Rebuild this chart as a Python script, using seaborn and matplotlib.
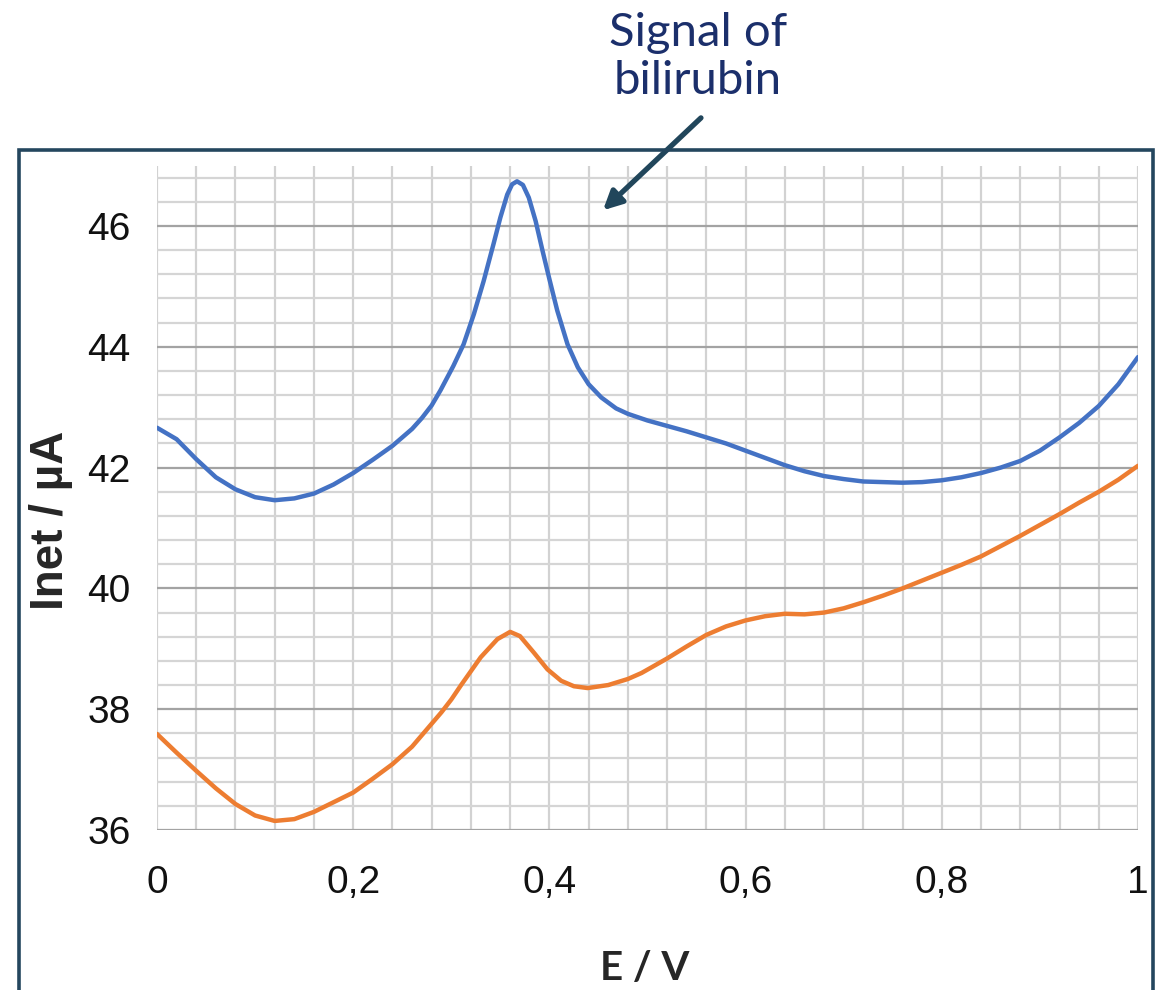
import numpy as np
import pandas as pd
import matplotlib
matplotlib.use("Agg")
import matplotlib.pyplot as plt
import seaborn as sns
from matplotlib.ticker import MultipleLocator
from matplotlib.patches import Rectangle

# potential (V) and net current (uA)
e_blue = [0, 0.02, 0.04, 0.06, 0.08, 0.10, 0.12, 0.14, 0.16, 0.18, 0.20, 0.22, 0.24, 0.26, 0.27,
          0.28, 0.289, 0.302, 0.3125, 0.323, 0.333, 0.343, 0.350, 0.357, 0.362, 0.367, 0.373,
          0.379, 0.386, 0.393, 0.40, 0.408, 0.4185, 0.429, 0.44, 0.453, 0.468, 0.48, 0.50, 0.52,
          0.54, 0.56, 0.58, 0.60, 0.62, 0.64, 0.66, 0.68, 0.70, 0.72, 0.74, 0.76, 0.78, 0.80,
          0.82, 0.84, 0.86, 0.88, 0.90, 0.92, 0.94, 0.96, 0.98, 1.00]
i_blue = [42.66, 42.47, 42.14, 41.84, 41.64, 41.51, 41.46, 41.49, 41.57, 41.72, 41.91, 42.13,
          42.36, 42.64, 42.82, 43.03, 43.28, 43.68, 44.04, 44.54, 45.09, 45.70, 46.14, 46.52,
          46.69, 46.74, 46.68, 46.47, 46.08, 45.59, 45.12, 44.60, 44.04, 43.66, 43.38, 43.16,
          42.98, 42.89, 42.78, 42.69, 42.60, 42.50, 42.40, 42.28, 42.16, 42.04, 41.94, 41.86,
          41.81, 41.77, 41.76, 41.75, 41.76, 41.79, 41.84, 41.91, 42.00, 42.11, 42.28, 42.50,
          42.74, 43.02, 43.38, 43.83]

e_orange = [0, 0.02, 0.04, 0.06, 0.08, 0.10, 0.12, 0.14, 0.16, 0.18, 0.20, 0.22, 0.24, 0.26,
            0.28, 0.29, 0.30, 0.31, 0.32, 0.33, 0.347, 0.36, 0.37, 0.384, 0.398, 0.412, 0.425,
            0.439, 0.46, 0.48, 0.494, 0.52, 0.54, 0.56, 0.58, 0.60, 0.62, 0.64, 0.66, 0.68, 0.70,
            0.72, 0.74, 0.76, 0.78, 0.80, 0.82, 0.84, 0.86, 0.88, 0.90, 0.92, 0.94, 0.96, 0.98,
            1.00]
i_orange = [37.59, 37.28, 36.98, 36.69, 36.43, 36.24, 36.15, 36.18, 36.30, 36.46, 36.62, 36.85,
            37.09, 37.38, 37.76, 37.95, 38.16, 38.40, 38.63, 38.86, 39.16, 39.28, 39.21, 38.94,
            38.66, 38.47, 38.38, 38.35, 38.40, 38.50, 38.60, 38.84, 39.04, 39.23, 39.37, 39.47,
            39.54, 39.58, 39.57, 39.60, 39.67, 39.77, 39.88, 40.00, 40.13, 40.26, 40.39, 40.53,
            40.70, 40.87, 41.05, 41.23, 41.42, 41.60, 41.80, 42.03]

x_ticks = [0, 0.2, 0.4, 0.6, 0.8, 1.0]
x_labels = ["0", "0,2", "0,4", "0,6", "0,8", "1"]
y_ticks = [36, 38, 40, 42, 44, 46]
y_labels = ["36", "38", "40", "42", "44", "46"]

df = pd.concat([
    pd.DataFrame({"E": e_blue, "I": i_blue, "curve": "with bilirubin"}),
    pd.DataFrame({"E": e_orange, "I": i_orange, "curve": "blank"}),
])

sns.set_style("white")
tick_font = ["Liberation Sans Narrow", "Liberation Sans", "DejaVu Sans"]

fig = plt.figure(figsize=(11.59, 9.90), dpi=100)
ax = fig.add_axes([157 / 1159, 1 - 830 / 990, (1138 - 157) / 1159, (830 - 165.6) / 990])

sns.lineplot(data=df, x="E", y="I", hue="curve", sort=False, estimator=None,
             palette={"with bilirubin": "#4472c4", "blank": "#ed7d31"},
             linewidth=3.2, legend=False, ax=ax)
for ln in ax.get_lines():
    ln.set_solid_joinstyle("round")

ax.set_xlim(0, 1)
ax.set_ylim(36, 47)
ax.xaxis.set_minor_locator(MultipleLocator(0.04))
ax.yaxis.set_minor_locator(MultipleLocator(0.4))
ax.set_xticks(x_ticks, x_labels)
ax.set_yticks(y_ticks, y_labels)
for lab in ax.get_xticklabels() + ax.get_yticklabels():
    lab.set_family(tick_font)
    lab.set_fontsize(28)
    lab.set_color("#111111")

ax.grid(which="major", axis="y", color="#a3a3a3", lw=1.6)
ax.grid(which="minor", axis="y", color="#d5d5d5", lw=1.6)
ax.grid(which="both", axis="x", color="#d2d2d2", lw=1.6)
ax.set_axisbelow(True)
ax.tick_params(axis="x", which="major", length=9, width=1.6, color="#a3a3a3", pad=16)
ax.tick_params(axis="y", which="major", length=7, width=1.6, color="#a3a3a3", pad=12)
ax.tick_params(which="minor", length=0)
for s in ax.spines.values():
    s.set_visible(False)
ax.set_xlabel("")
ax.set_ylabel("")

fig.text(51 / 1159, 1 - 520 / 990, "Inet / µA", rotation=90, ha="center", va="center",
         fontsize=33, fontweight="bold", family=["Liberation Sans", "DejaVu Sans"])
fig.text(645 / 1159, 1 - 968 / 990, "E / V", ha="center", va="center",
         fontsize=29, fontweight="bold", family=["Lato", "DejaVu Sans"])

fig.text(698 / 1159, 1 - 57 / 990, "Signal of\nbilirubin", ha="center", va="center",
         fontsize=34, color="#1b2f6b", family=["Lato", "DejaVu Sans"], linespacing=1.2)
ax.annotate("", xy=(0.4546, 46.26), xytext=(0.5545, 47.79), annotation_clip=False,
            arrowprops=dict(arrowstyle="-|>", color="#21465b", lw=3.8,
                            mutation_scale=28, shrinkA=0, shrinkB=0))

# dark frame round the chart, open at the bottom edge
fig.add_artist(Rectangle((19 / 1159, -0.1), (1153 - 19) / 1159, 1 - 150 / 990 + 0.1,
                         transform=fig.transFigure, fill=False, edgecolor="#24465e", lw=2.6))

fig.savefig("out.png", dpi=100)
